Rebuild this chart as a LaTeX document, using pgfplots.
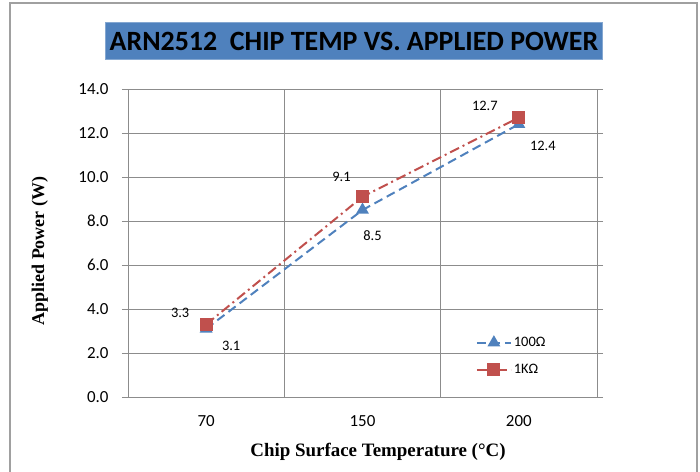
\documentclass[border=0pt]{standalone}
\usepackage{pgfplots}
\pgfplotsset{compat=1.18}
\usepackage{fontspec}
\setmainfont{Carlito}
\newfontfamily\timesf{Liberation Serif}
\definecolor{xlblue}{HTML}{4F81BD}
\definecolor{xlred}{HTML}{C0504D}
\definecolor{gridgray}{HTML}{8C8C8C}
\definecolor{framegray}{HTML}{A0A0A0}
\begin{document}
\begin{tikzpicture}
\path[use as bounding box] (-128bp,-75bp) rectangle (572bp,397bp);
\draw[framegray, line width=1.2bp] (-118bp,-80bp) -- (-118bp,394bp) -- (569bp,394bp) -- (569bp,-80bp);
\begin{axis}[
  at={(0,0)}, anchor=south west,
  scale only axis, width=469bp, height=308bp,
  xmin=-0.5, xmax=2.5, ymin=0, ymax=14,
  xtick={0,1,2}, xticklabels={70,150,200},
  x tick style={draw=none},
  extra x ticks={-0.5,0.5,1.5,2.5}, extra x tick labels={},
  extra x tick style={grid=major, major tick length=6bp, tick align=outside, tick style={draw=gridgray, line width=0.8bp}},
  ytick={0,2,...,14},
  ymajorgrids,
  grid style={gridgray, line width=0.8bp},
  axis line style={gridgray, line width=0.8bp},
  y tick style={draw=gridgray, line width=0.8bp},
  major tick length=6bp, tick align=outside,
  yticklabel style={/pgf/number format/.cd, fixed, fixed zerofill, precision=1, /tikz/.cd},
  /pgf/number format/assume math mode=true,
  tick label style={font=\fontsize{17}{19}\selectfont, text=black},
  xticklabel style={yshift=-9bp},
  yticklabel style={xshift=-10bp},
  xlabel={Chip Surface Temperature (°C)},
  ylabel={Applied Power (W)},
  xlabel style={font=\timesf\bfseries\fontsize{19}{21}\selectfont, at={(axis description cs:0.533,-0.179)}, anchor=center},
  ylabel style={font=\timesf\bfseries\fontsize{18}{20}\selectfont, at={(axis description cs:-0.188,0.474)}, anchor=center, rotate=0},
  legend style={at={(rel axis cs:0.735,0.058)}, anchor=south west, draw=none, fill=none, font=\fontsize{14.5}{16}\selectfont, row sep=12bp, /tikz/every even column/.append style={column sep=2bp}},
  legend cell align=left,
  legend image code/.code={\draw[mark repeat=2, mark phase=2] plot coordinates {(0bp,0bp) (17bp,0bp) (34bp,0bp)};},
  nodes near coords,
  point meta=explicit,
  visualization depends on={\thisrow{dx} \as \dx},
  visualization depends on={\thisrow{dy} \as \dy},
  every node near coord/.append style={font=\fontsize{14.5}{16}\selectfont, text=black, anchor=center, xshift=\dx bp, yshift=\dy bp},
  nodes near coords={\pgfmathprintnumber[fixed, fixed zerofill, precision=1]{\pgfplotspointmeta}},
  clip=false,
]
\addplot[xlblue, line width=2bp, dash pattern=on 9bp off 5bp, mark=triangle*, mark size=5.5bp, mark options={solid}]
  table[x=x, y=y, meta=y] {
x y dx dy
0 3.1 25 -17
1 8.5 10 -26
2 12.4 24 -22
};
\addlegendentry{100Ω}
\addplot[xlred, line width=2bp, dash pattern=on 10bp off 4bp on 2bp off 4bp, mark=square*, mark size=5.5bp, mark options={solid}]
  table[x=x, y=y, meta=y] {
x y dx dy
0 3.3 -26 12
1 9.1 -21 20
2 12.7 -34 12
};
\addlegendentry{1KΩ}
\end{axis}
\node[fill=xlblue, draw=xlblue!70!white, minimum width=497bp, minimum height=37bp, inner sep=0pt, font=\bfseries\fontsize{28}{30}\selectfont] at (226bp,356bp) {ARN2512\ \ CHIP TEMP VS. APPLIED POWER};
\end{tikzpicture}
\end{document}
